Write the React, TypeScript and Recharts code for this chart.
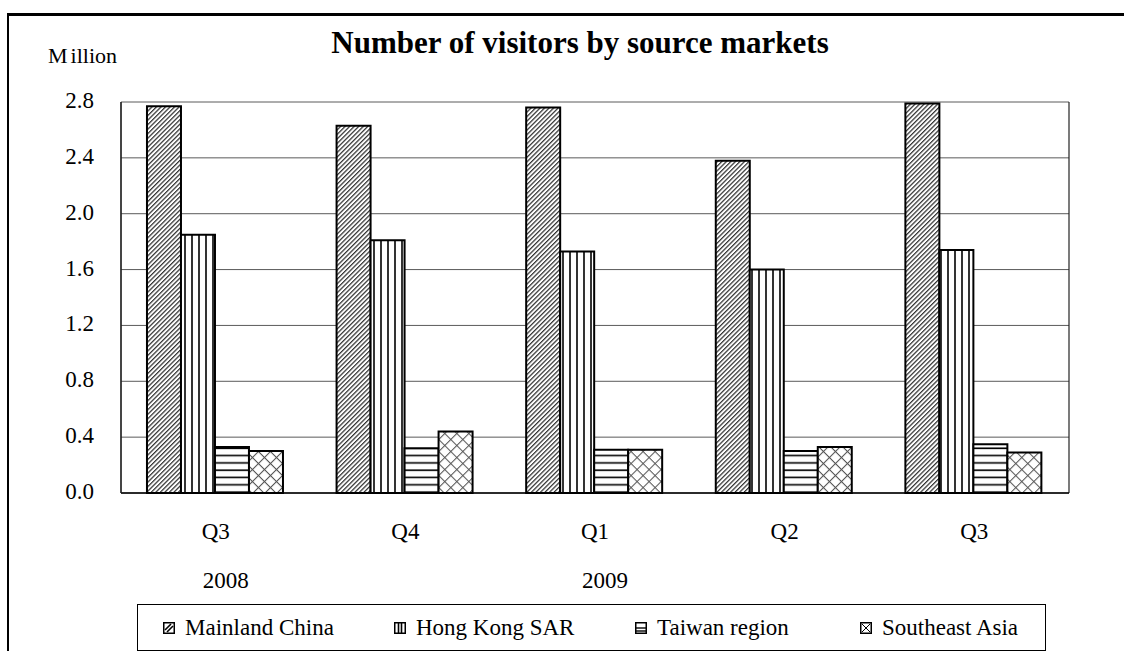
import React from 'react';
import { BarChart, Bar, XAxis, YAxis, CartesianGrid } from 'recharts';

// Quarterly visitor arrivals (millions) by source market
const quarters = ['Q3', 'Q4', 'Q1', 'Q2', 'Q3'];
const years = ['2008', '', '2009', '', ''];
const mainlandChina = [2.77, 2.63, 2.76, 2.38, 2.79];
const hongKongSAR = [1.85, 1.81, 1.73, 1.6, 1.74];
const taiwanRegion = [0.33, 0.32, 0.31, 0.3, 0.35];
const southeastAsia = [0.3, 0.44, 0.31, 0.33, 0.29];
const yTicks = [0, 0.4, 0.8, 1.2, 1.6, 2.0, 2.4, 2.8];
const seriesNames = ['Mainland China', 'Hong Kong SAR', 'Taiwan region', 'Southeast Asia'];
const seriesKeys = ['mainland', 'hongkong', 'taiwan', 'seasia'];
const seriesFills = ['url(#hatchDiag)', 'url(#hatchVert)', 'url(#hatchHoriz)', 'url(#hatchCross)'];
const legendOffsets = [25, 256, 497, 722];

const data = quarters.map((q, i) => ({
  key: String(i),
  mainland: mainlandChina[i],
  hongkong: hongKongSAR[i],
  taiwan: taiwanRegion[i],
  seasia: southeastAsia[i],
}));

const FONT = "'Liberation Serif', 'Times New Roman', serif";

const XTick = (props: any) => {
  const { x, y, payload } = props;
  const i = payload.index;
  return (
    <g>
      <text x={x} y={y + 46} textAnchor="middle" fontFamily={FONT} fontSize={23} fill="#000">
        {quarters[i]}
      </text>
      {years[i] ? (
        <text x={x + 10} y={y + 95} textAnchor="middle" fontFamily={FONT} fontSize={23} fill="#000">
          {years[i]}
        </text>
      ) : null}
    </g>
  );
};

const YTick = (props: any) => {
  const { x, y, payload } = props;
  return (
    <text x={x - 27} y={y + 6} textAnchor="end" fontFamily={FONT} fontSize={23} fill="#000">
      {Number(payload.value).toFixed(1)}
    </text>
  );
};

// Small legend swatches drawn as simple line glyphs
const LegendIcon = ({ kind }: { kind: number }) => {
  const s = 12;
  return (
    <svg width={s} height={s} style={{ display: 'block' }}>
      <rect x={0.75} y={0.75} width={s - 1.5} height={s - 1.5} fill="#fff" stroke="#000" strokeWidth={1.5} />
      {kind === 0 && (
        <g stroke="#000" strokeWidth={1.6}>
          <line x1={2} y1={8} x2={8} y2={2} />
          <line x1={4} y1={10} x2={10} y2={4} />
        </g>
      )}
      {kind === 1 && (
        <g stroke="#000" strokeWidth={1.6}>
          <line x1={4.5} y1={1} x2={4.5} y2={11} />
          <line x1={7.5} y1={1} x2={7.5} y2={11} />
        </g>
      )}
      {kind === 2 && (
        <g stroke="#000" strokeWidth={1.4}>
          <line x1={1} y1={6} x2={11} y2={6} />
          <line x1={1} y1={9} x2={11} y2={9} />
        </g>
      )}
      {kind === 3 && (
        <g stroke="#000" strokeWidth={1}>
          <line x1={2} y1={2} x2={10} y2={10} />
          <line x1={10} y1={2} x2={2} y2={10} />
        </g>
      )}
    </svg>
  );
};

export default function App() {
  return (
    <div style={{ position: 'absolute', left: 0, top: 0, width: 1124, height: 651, background: '#fff', overflow: 'hidden' }}>
      <svg width={0} height={0} style={{ position: 'absolute' }}>
        <defs>
          <pattern id="hatchDiag" patternUnits="userSpaceOnUse" width={3.2} height={3.2} patternTransform="rotate(45)">
            <rect width={3.2} height={3.2} fill="#fff" />
            <line x1={0.6} y1={0} x2={0.6} y2={3.2} stroke="#333" strokeWidth={1.3} />
          </pattern>
          <pattern id="hatchVert" patternUnits="userSpaceOnUse" width={7} height={7}>
            <rect width={7} height={7} fill="#fff" />
            <line x1={3} y1={0} x2={3} y2={7} stroke="#000" strokeWidth={1.6} />
          </pattern>
          <pattern id="hatchHoriz" patternUnits="userSpaceOnUse" width={7} height={7.3}>
            <rect width={7} height={7.3} fill="#fff" />
            <line x1={0} y1={3} x2={7} y2={3} stroke="#000" strokeWidth={1.6} />
          </pattern>
          <pattern id="hatchCross" patternUnits="userSpaceOnUse" width={8.5} height={8.5} patternTransform="rotate(45)">
            <rect width={8.5} height={8.5} fill="#fff" />
            <line x1={0} y1={0.5} x2={8.5} y2={0.5} stroke="#555" strokeWidth={1.1} />
            <line x1={0.5} y1={0} x2={0.5} y2={8.5} stroke="#555" strokeWidth={1.1} />
          </pattern>
        </defs>
      </svg>

      {/* outer frame */}
      <div
        style={{
          position: 'absolute',
          left: 7,
          top: 13,
          width: 1117,
          height: 640,
          borderTop: '3px solid #000',
          borderLeft: '2px solid #000',
          boxSizing: 'border-box',
        }}
      />

      <div style={{ position: 'absolute', left: 0, top: 0 }}>
        <BarChart
          width={1124}
          height={651}
          data={data}
          margin={{ top: 102, right: 55, bottom: 98, left: 0 }}
          barCategoryGap="13.7%"
          barGap={0}
        >
          <CartesianGrid horizontal={true} vertical={false} stroke="#5a5a5a" strokeWidth={1} />
          <CartesianGrid
            horizontal={false}
            vertical={true}
            stroke="#222"
            strokeWidth={1.2}
            verticalCoordinatesGenerator={({ offset }: any) => [offset.left, offset.left + offset.width]}
          />
          <XAxis
            dataKey="key"
            height={60}
            tickLine={false}
            tickSize={0}
            tickMargin={0}
            axisLine={{ stroke: '#000', strokeWidth: 1.5 }}
            tick={<XTick />}
            interval={0}
          />
          <YAxis
            width={121}
            domain={[0, 2.8]}
            ticks={yTicks}
            tickLine={false}
            tickSize={0}
            tickMargin={0}
            axisLine={{ stroke: '#222', strokeWidth: 1.2 }}
            tick={<YTick />}
            interval={0}
          />
          {seriesKeys.map((k, idx) => (
            <Bar
              key={k}
              dataKey={k}
              name={seriesNames[idx]}
              fill={seriesFills[idx]}
              stroke="#000"
              strokeWidth={2}
              isAnimationActive={false}
            />
          ))}
        </BarChart>
      </div>

      {/* title and unit label */}
      <svg width={1124} height={100} style={{ position: 'absolute', left: 0, top: 0, pointerEvents: 'none' }}>
        <text x={580} y={53} textAnchor="middle" fontFamily={FONT} fontSize={31} fontWeight="bold" fill="#000">
          Number of visitors by source markets
        </text>
        <text x={48} y={63} fontFamily={FONT} fontSize={22} fill="#000">
          <tspan>M</tspan>
          <tspan dx={3}>illion</tspan>
        </text>
      </svg>

      {/* legend */}
      <div
        style={{
          position: 'absolute',
          left: 137,
          top: 604,
          width: 909,
          height: 47,
          border: '1.5px solid #000',
          boxSizing: 'border-box',
          fontFamily: FONT,
          fontSize: 23,
          color: '#000',
          whiteSpace: 'nowrap',
        }}
      >
        {seriesNames.map((n, idx) => (
          <div
            key={n}
            style={{
              position: 'absolute',
              left: legendOffsets[idx],
              top: 0,
              height: '100%',
              display: 'flex',
              alignItems: 'center',
              gap: 10,
            }}
          >
            <LegendIcon kind={idx} />
            <span>{n}</span>
          </div>
        ))}
      </div>
    </div>
  );
}
